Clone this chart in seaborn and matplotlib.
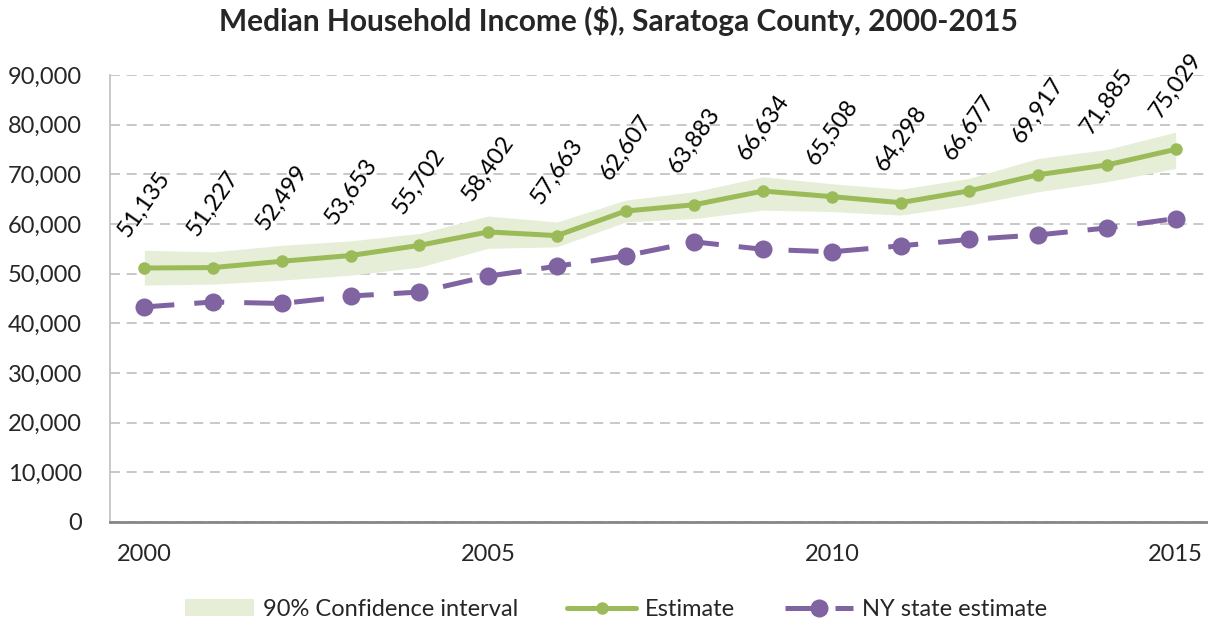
import matplotlib
matplotlib.use("Agg")
import matplotlib.pyplot as plt
import numpy as np
import pandas as pd
import seaborn as sns
from matplotlib.patches import Patch
from matplotlib.lines import Line2D

# Data
years = list(range(2000, 2016))
estimate = [51135, 51227, 52499, 53653, 55702, 58402, 57663, 62607,
            63883, 66634, 65508, 64298, 66677, 69917, 71885, 75029]
ny_state = [43300, 44300, 44000, 45500, 46300, 49500, 51500, 53600,
            56400, 54900, 54400, 55600, 56900, 57800, 59200, 61100]
ci_low = [47700, 47900, 48700, 49700, 51300, 55100, 55400, 60400,
          61100, 62800, 62500, 61800, 63800, 66500, 68500, 71200]
ci_high = [54700, 54400, 55700, 56600, 58100, 61600, 60400, 64800,
           66500, 69500, 68100, 67000, 69200, 73200, 75000, 78500]

df = pd.DataFrame({"year": years, "estimate": estimate, "ny": ny_state,
                   "lo": ci_low, "hi": ci_high})

GREEN = "#9BBB59"
PURPLE = "#8064A2"
BAND = "#E6EED8"

sns.set_style("white")
plt.rcParams["font.family"] = ["Lato", "DejaVu Sans"]

fig = plt.figure(figsize=(12.08, 6.27), dpi=100)
ax = fig.add_axes([110 / 1208, 105 / 627, 1100 / 1208, 447 / 627])

# confidence band
ax.fill_between(df["year"], df["lo"], df["hi"], color=BAND, lw=0, zorder=1)

# lines
sns.lineplot(data=df, x="year", y="estimate", ax=ax, color=GREEN, lw=3.6,
             marker="o", markersize=9, markeredgewidth=0,
             markeredgecolor=GREEN, zorder=3)
sns.lineplot(data=df, x="year", y="ny", ax=ax, color=PURPLE, lw=3.6,
             linestyle=(0, (6, 4)), marker="o", markersize=13,
             markeredgewidth=0, markeredgecolor=PURPLE, zorder=3)

# data labels
for x, y in zip(years, estimate):
    ax.annotate(f"{y:,}", (x, y), xytext=(0, 20), textcoords="offset points",
                ha="center", va="bottom", rotation=55, fontsize=17,
                color="black")

# axes
ax.set_xlim(1999.5, 2015.5)
ax.set_ylim(0, 90000)
ax.set_xticks([2000, 2005, 2010, 2015])
ax.set_yticks(np.arange(0, 90001, 10000))
ax.yaxis.set_major_formatter(matplotlib.ticker.FuncFormatter(lambda v, p: f"{int(v):,}"))
ax.tick_params(axis="both", labelsize=17, length=0)
ax.tick_params(axis="x", pad=16)
ax.tick_params(axis="y", pad=20)
ax.set_xlabel("")
ax.set_ylabel("")
ax.grid(axis="y", color="#BFBFBF", linestyle=(0, (6, 4)), lw=1.2)
ax.set_axisbelow(True)
for s in ["top", "right"]:
    ax.spines[s].set_visible(False)
ax.spines["left"].set_color("#BFBFBF")
ax.spines["left"].set_linewidth(1.2)
ax.spines["bottom"].set_color("#868686")
ax.spines["bottom"].set_linewidth(2)

fig.suptitle("Median Household Income ($), Saratoga County, 2000-2015",
             fontsize=21.5, fontweight="bold", y=0.99, x=0.512)

handles = [Patch(facecolor=BAND, edgecolor="none"),
           Line2D([], [], color=GREEN, lw=3.6, marker="o", markersize=9,
                  markeredgewidth=0),
           Line2D([], [], color=PURPLE, lw=3.6, linestyle=(0, (6, 4)),
                  marker="o", markersize=13, markeredgewidth=0)]
labels = ["90% Confidence interval", "Estimate", "NY state estimate"]
fig.legend(handles, labels, loc="center", bbox_to_anchor=(0.51, 0.028),
           ncol=3, frameon=False, fontsize=17, handlelength=2.9,
           columnspacing=2.1, handletextpad=0.38)

fig.savefig("out.png", dpi=100)
